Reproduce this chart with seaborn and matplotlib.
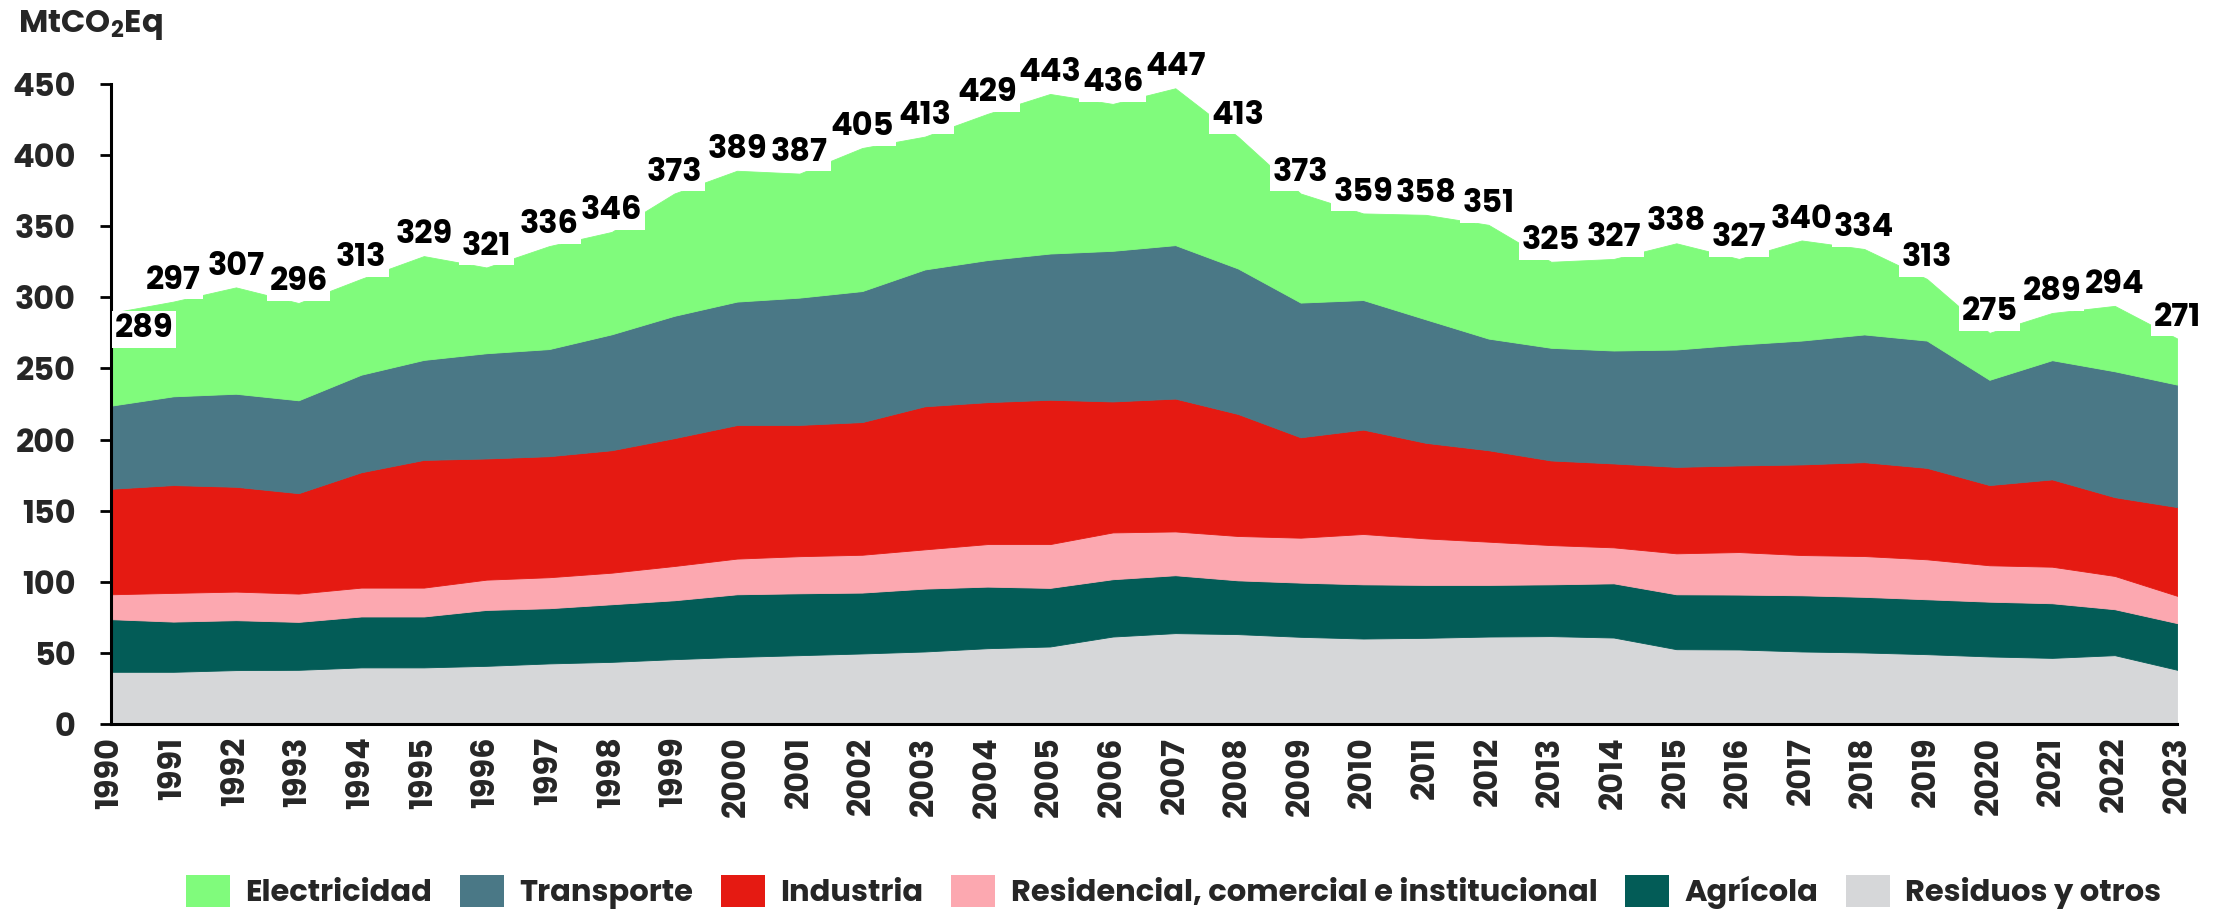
import matplotlib
matplotlib.use("Agg")
import matplotlib.pyplot as plt
from matplotlib import font_manager as fm
from matplotlib.patches import Patch
import numpy as np
import pandas as pd
import seaborn as sns

years = list(range(1990, 2024))
residuos = [36.7,36.7,37.9,38.1,39.8,39.8,40.9,42.6,43.7,45.6,47.2,48.4,49.6,51.0,53.3,54.5,61.5,63.9,63.2,61.3,60.1,60.6,61.5,61.8,60.8,52.6,52.4,51.0,50.3,49.1,47.5,46.5,48.4,38.1]
agricola = [37.0,35.3,35.1,33.7,35.8,35.8,39.3,38.8,40.5,41.4,44.0,43.5,42.8,44.2,43.3,41.2,40.3,40.7,37.8,38.1,38.1,37.2,36.3,36.4,38.1,38.6,38.6,39.5,39.1,38.6,38.5,38.4,32.3,32.8]
residencial = [17.5,20.2,20.1,19.9,20.3,20.3,21.3,21.8,22.2,24.1,25.1,26.1,26.6,27.6,29.9,30.8,32.9,30.8,31.2,31.6,35.4,32.7,30.4,27.6,25.3,28.8,29.9,28.3,28.7,28.1,25.6,25.7,23.4,19.2]
industria = [74.2,75.8,73.7,70.6,81.1,89.8,85.2,85.1,86.1,89.9,93.9,92.3,93.3,100.6,99.8,101.5,92.1,93.4,85.8,70.6,73.4,67.2,64.3,59.5,59.0,60.8,60.9,63.7,66.0,64.3,56.4,61.4,55.4,62.4]
transporte = [58.4,62.4,65.4,65.3,68.6,70.3,74.0,75.3,81.5,86.0,86.8,89.5,92.1,96.2,99.9,102.8,105.9,107.9,102.3,94.7,91.1,86.8,78.5,79.2,79.4,82.5,85.0,87.1,89.8,89.5,74.0,83.8,88.5,86.1]
electricidad = [65.2,66.6,74.8,68.4,67.4,73.0,60.3,72.4,72.0,86.0,92.0,87.2,100.6,93.4,102.8,112.2,103.3,110.3,92.7,76.7,60.9,73.5,80.0,60.5,64.4,74.7,60.2,70.4,60.1,43.4,33.0,33.2,46.0,32.4]

series_names = ["Residuos y otros", "Agrícola", "Residencial, comercial e institucional",
                "Industria", "Transporte", "Electricidad"]
series_colors = ["#D6D7D9", "#035C57", "#FCA8B0", "#E51A12", "#4A7886", "#80FB7C"]
y_ticks = [0, 50, 100, 150, 200, 250, 300, 350, 400, 450]
unit_label = "MtCO$_\\mathbf{2}$Eq"

df = pd.DataFrame({"year": years, series_names[0]: residuos, series_names[1]: agricola,
                   series_names[2]: residencial, series_names[3]: industria,
                   series_names[4]: transporte, series_names[5]: electricidad})

sns.set_theme(style="white")
names = {f.name for f in fm.fontManager.ttflist}
main = "DejaVu Sans"
for cand in ["Poppins", "Montserrat"]:
    if cand in names:
        main = cand
        break
plt.rcParams["font.family"] = [main, "DejaVu Sans"]
plt.rcParams["mathtext.fontset"] = "custom"
plt.rcParams["mathtext.bf"] = main + ":bold"
plt.rcParams["mathtext.rm"] = main

fig = plt.figure(figsize=(22.27, 9.13), dpi=100)
ax = fig.add_axes([0.0497, 0.207, 0.928, 0.701])

x = df["year"].values
base = np.zeros(len(x))
for name, col in zip(series_names, series_colors):
    top = base + df[name].values
    ax.fill_between(x, base, top, facecolor=col, edgecolor=col, linewidth=0.6, zorder=2)
    base = top
totals = base

ax.set_xlim(1990, 2023)
ax.set_ylim(0, 450)
ax.set_yticks(y_ticks)
ax.set_yticklabels([str(t) for t in y_ticks], fontsize=23, fontweight="bold")
ax.set_xticks(years)
ax.set_xticklabels([str(y) for y in years], rotation=90, fontsize=23, fontweight="bold")
ax.tick_params(axis="y", length=8, width=2, color="black", pad=17, direction="out", left=True)
ax.tick_params(axis="x", length=0, pad=9)
for s in ["top", "right"]:
    ax.spines[s].set_visible(False)
for s in ["left", "bottom"]:
    ax.spines[s].set_color("black")
    ax.spines[s].set_linewidth(2.2)
    ax.spines[s].set_zorder(5)
ax.grid(False)

lab_fs = 23
for i, (yr, tot) in enumerate(zip(x, totals)):
    lab = str(int(round(tot)))
    if i == 0:
        pos = dict(x=yr + 0.06, y=tot - 17, ha="left")
    else:
        pos = dict(x=yr, y=tot + 9, ha="center")
    # white backing box first, then the text on top of all boxes
    ax.text(pos["x"], pos["y"], lab, ha=pos["ha"], va="baseline", fontsize=lab_fs,
            fontweight="bold", color="white", zorder=6, clip_on=False,
            bbox=dict(boxstyle="square,pad=0.08", facecolor="white", edgecolor="none"))
    ax.text(pos["x"], pos["y"], lab, ha=pos["ha"], va="baseline", fontsize=lab_fs,
            fontweight="bold", color="black", zorder=7, clip_on=False)

fig.text(0.008, 0.973, unit_label, ha="left", va="center", fontsize=23, fontweight="bold")

handles = [Patch(facecolor=c, edgecolor="none", label=n)
           for n, c in zip(series_names[::-1], series_colors[::-1])]
fig.legend(handles=handles, loc="lower center", bbox_to_anchor=(0.527, -0.026), ncol=6,
           frameon=False, prop={"weight": "bold", "size": 22},
           handlelength=1.45, handleheight=1.2, handletextpad=0.5, columnspacing=0.9)

fig.savefig("out.png", dpi=100)
